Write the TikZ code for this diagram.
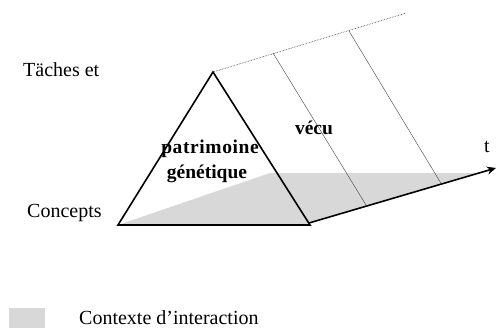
\documentclass[tikz,border=0pt]{standalone}
\usepackage{fontspec}
\setmainfont{Liberation Serif}
\usetikzlibrary{arrows.meta}
\definecolor{ctx}{HTML}{D8D8D8}
\tikzset{
  lbl/.style={font=\fontsize{20}{22}\selectfont, inner sep=0pt},
  blbl/.style={font=\fontsize{19.5}{22}\selectfont\bfseries, inner sep=0pt},
  edge/.style={line width=1.6pt, line join=miter},
  thin/.style={line width=0.4pt, draw=black!75},
  dotline/.style={line width=0.6pt, draw=black!80, densely dotted},
}
\begin{document}
\begin{tikzpicture}[x=1pt,y=-1pt]
\useasboundingbox (0,0) rectangle (496,329);
% key points
\coordinate (BL) at (118,225);
\coordinate (BR) at (310,225);
\coordinate (AP) at (213,72);
\coordinate (GT) at (270,173);
\coordinate (GR) at (479,173);
\coordinate (AS) at (309,223);
\coordinate (AE) at (496,168);
\coordinate (TT) at (406,13);
\coordinate (L1a) at (273,53);
\coordinate (L1b) at (366,205);
\coordinate (L2a) at (349,31);
\coordinate (L2b) at (442,185);
% gray context region
\fill[ctx] (BL) -- (GT) -- (GR) -- (AS) -- (BR) -- cycle;
% thin lines
\draw[dotline] (AP) -- (TT);
\draw[thin] (L1a) -- (L1b);
\draw[thin] (L2a) -- (L2b);
% triangle
\draw[edge] (BL) -- (AP) -- (BR) -- cycle;
% time arrow
\draw[line width=1.6pt, -{Stealth[length=9pt,width=8pt]}] (AS) -- (AE);
% labels
\node[lbl, anchor=west] (taches) at (23,70) {Täches et};
\node[lbl, anchor=west] (concepts) at (27,213) {Concepts};
\node[blbl] (patr) at (210,149) {p\kern0.6pt a\kern0.6pt t\kern0.6pt r\kern0.6pt i\kern0.6pt m\kern0.6pt o\kern0.6pt i\kern0.6pt n\kern0.6pt e};
\node[blbl] (gene) at (207,174) {génétique};
\node[blbl] (vecu) at (314,128) {vécu};
\node[lbl] (t) at (487,147) {t};
% legend
\fill[ctx] (9,308) rectangle (45,328);
\node[lbl, anchor=west] (ctxlbl) at (79,318) {Contexte d’interaction};
\end{tikzpicture}
\end{document}
